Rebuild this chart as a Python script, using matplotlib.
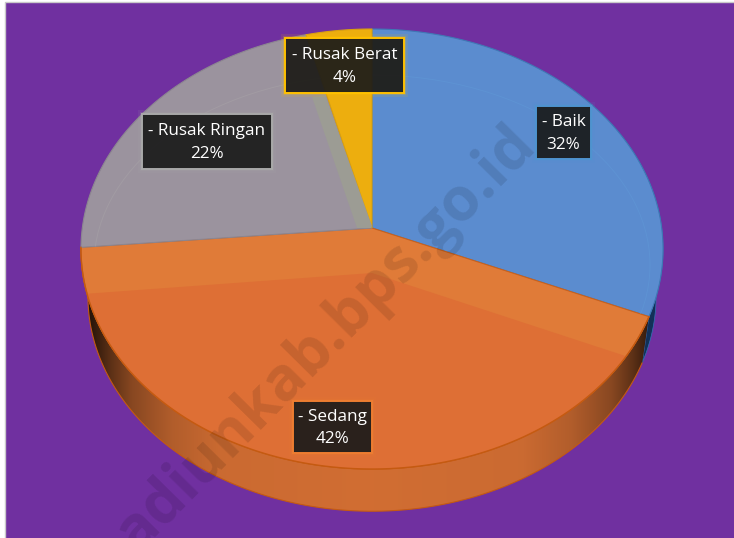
import numpy as np
import matplotlib
matplotlib.use("Agg")
import matplotlib.pyplot as plt
from matplotlib.patches import Polygon, Rectangle, PathPatch, Ellipse
from matplotlib.path import Path

categories = ["- Baik", "- Sedang", "- Rusak Ringan", "- Rusak Berat"]
values = [31.4, 42.2, 22.4, 4.0]
pct_labels = ["32%", "42%", "22%", "4%"]
top_colors = ["#5B8CCF", "#E07B38", "#9B939E", "#EDAE0E"]
edge_colors = ["#3F78B5", "#C9611C", "#8C8690", "#D9A010"]
border_colors = ["#4F94D0", "#ED7D31", "#A9A9A9", "#FFC000"]

# label boxes: left, top, right, bottom in pixels
boxes = [(536, 106, 591, 159), (293, 401, 372, 453), (142, 114, 272, 169), (285, 38, 404, 93)]

BG = "#7030A0"
CX, CY = 372, 228
A, B, PERSP = 289.7, 218.0, 0.0955


def rim(t, k=1.0, dy=0.0):
    # t in degrees clockwise from the top, perspective projected circle
    t = np.radians(t)
    u, v = np.sin(t), np.cos(t)
    w = 1 + PERSP * v
    return np.column_stack([CX + k * A * u / w, CY + dy - k * B * v / w])


def arc(t0, t1, n=120, **kw):
    return rim(np.linspace(t0, t1, n), **kw)


fig = plt.figure(figsize=(7.34, 5.38), dpi=100, facecolor="white")
ax = fig.add_axes([0, 0, 1, 1])
ax.axis("off")
ax.add_patch(Rectangle((5, 2), 730, 537, fc=BG, ec="#C9C9C9", lw=1, zorder=0))

edges = np.cumsum([0] + values) / sum(values) * 360

# side wall
K, DY = 0.976, 48
side_blue = np.vstack([arc(60, edges[1]), arc(edges[1], 60, k=K, dy=DY)])
ax.add_patch(Polygon(side_blue, fc="#123058", ec="#2E75B6", lw=0.5, zorder=1))

side = np.vstack([arc(edges[1], edges[2]), arc(edges[2], edges[1], k=K, dy=DY)])
ax.add_patch(PathPatch(Path(side), fc="none", ec="#C55A11", lw=0.8, zorder=3))
grad_x = np.linspace(0, 734, 400)
shade = np.interp(np.abs(grad_x - CX) / 290, [0, 0.52, 0.69, 0.83, 0.9, 0.97, 1.0], [1, 0.97, 0.85, 0.65, 0.45, 0.2, 0.12])
base = np.array([0.82, 0.43, 0.2])
grad = base[None, None, :] * shade[None, :, None]
im = ax.imshow(grad, extent=(0, 734, 538, 0), aspect="auto", zorder=2, interpolation="bilinear")
im.set_clip_path(PathPatch(Path(side), transform=ax.transData))
ax.set_xlim(0, 734)
ax.set_ylim(538, 0)

# top of the pie
centre = np.array([[CX, CY]])
wedges = []
for i, col in enumerate(top_colors):
    pts = np.vstack([centre, arc(edges[i], edges[i + 1])])
    p = Polygon(pts, fc=col, ec=edge_colors[i], lw=0.8, zorder=4)
    ax.add_patch(p)
    wedges.append(p)

# darker lower part of the big slice (bevel reflection)
low = np.vstack([[[CX, 273]], arc(edges[1] + 10.8, edges[2] - 12)])
ax.add_patch(Polygon(low, fc="#DE6F35", ec="none", zorder=5))
ax.plot(*arc(edges[1], edges[2]).T, color="#C55A11", lw=1.0, zorder=6)

# faint bevel line on the back slices, band beside the yellow slice
for i, col in [(0, "#5F97D6"), (2, "#A6A1A6")]:
    e = Ellipse((CX, 265), 556, 380, fc="none", ec=col, lw=0.7, alpha=0.6, zorder=5)
    ax.add_patch(e)
    e.set_clip_path(wedges[i])
ax.add_patch(Polygon([[312, 97], [325, 95], [CX, 226], [CX - 1, 228], [357, 228]], fc="#9C9C94", ec="none", zorder=5))

# labels
for cat, pct, (x0, y0, x1, y1), ec in zip(categories, pct_labels, boxes, border_colors):
    for grow, a in [(4, 0.10), (2, 0.20)]:
        ax.add_patch(Rectangle((x0 - grow, y0 - grow), x1 - x0 + 2 * grow, y1 - y0 + 2 * grow, fc=ec, ec="none", alpha=a, zorder=7))
    ax.add_patch(Rectangle((x0, y0), x1 - x0, y1 - y0, fc="#1A1A1A", ec="none", alpha=0.92, zorder=8))
    ax.add_patch(Rectangle((x0, y0), x1 - x0, y1 - y0, fc="none", ec=ec, lw=1.4, zorder=8))
    ax.text((x0 + x1) / 2, (y0 + y1) / 2 + 1, f"{cat}\n{pct}", color="white", ha="center", va="center",
            family="Open Sans", fontsize=12.3, linespacing=1.52, zorder=9)

# watermark
ax.text(137, 553, "adiunkab.bps.go.id", rotation=45.4, rotation_mode="anchor", ha="left", va="baseline",
        family="Open Sans", fontweight="bold", fontsize=43.5, color="black", alpha=0.11, zorder=10)

fig.savefig("out.png", dpi=100, facecolor="white")
